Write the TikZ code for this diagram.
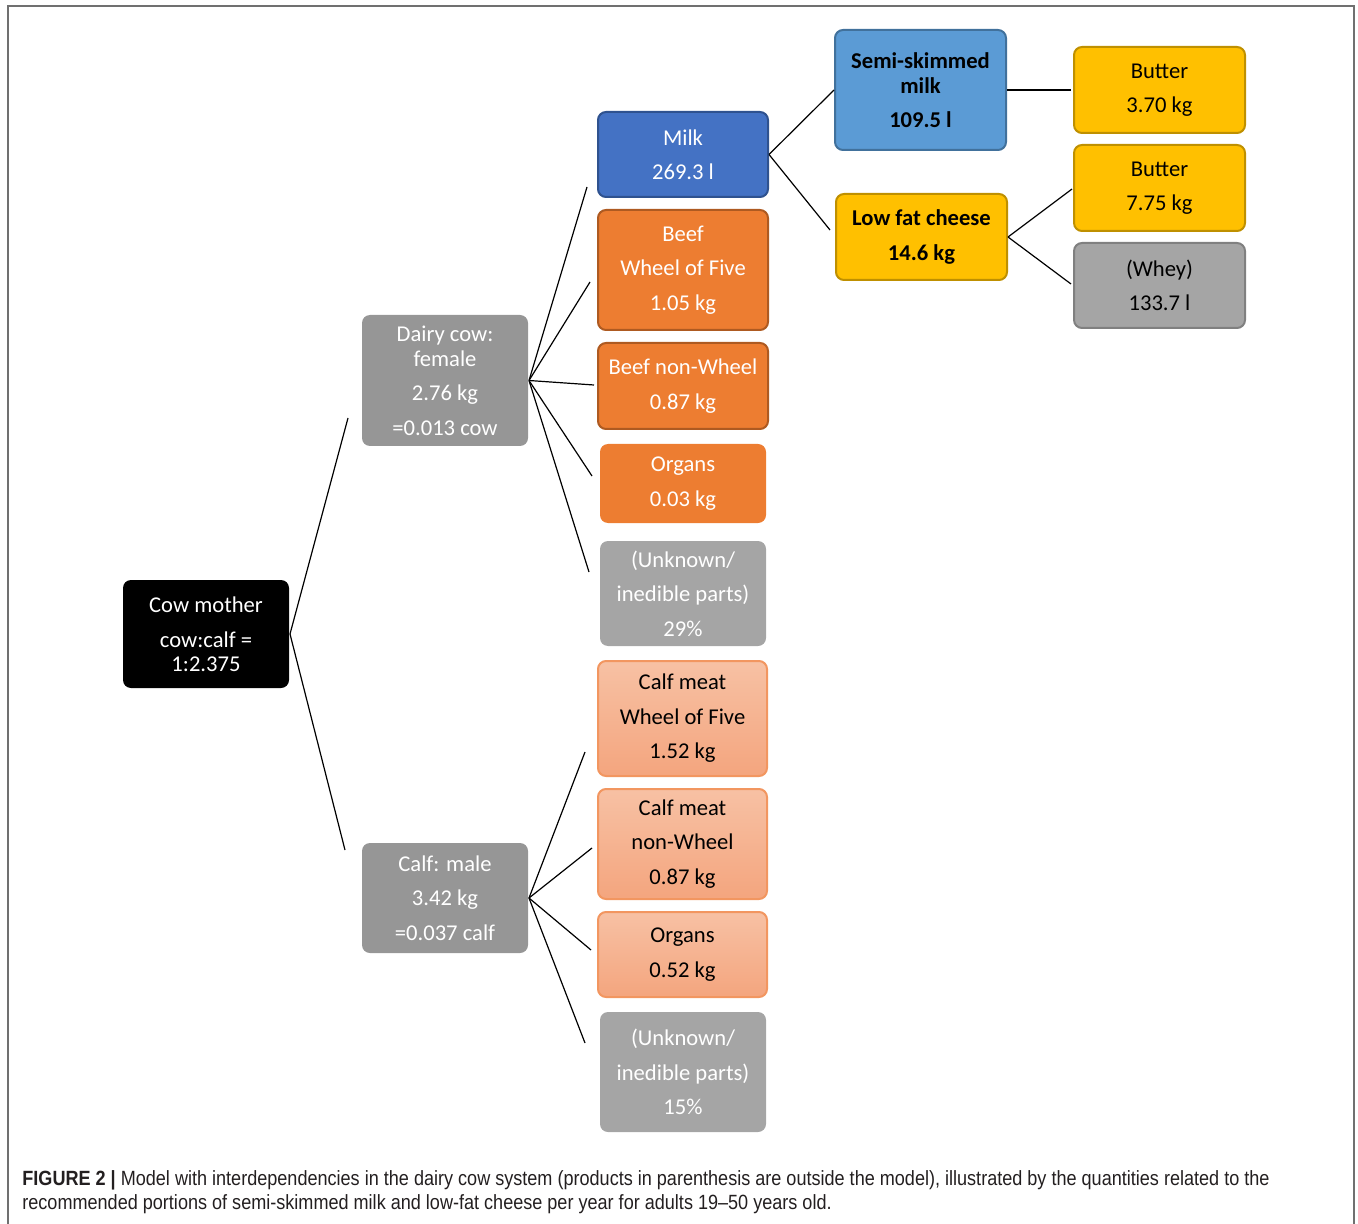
\documentclass[tikz,border=0pt]{standalone}
\usepackage{fontspec}
\newfontfamily\boxfont{Carlito}
\newfontfamily\capfont[FakeStretch=0.877,Ligatures=TeX]{Liberation Sans}
\definecolor{framegray}{HTML}{707070}
\definecolor{darkgray}{HTML}{969696}
\definecolor{lightgray}{HTML}{A5A5A5}
\definecolor{wheyborder}{HTML}{808080}
\definecolor{milkblue}{HTML}{4472C4}
\definecolor{milkborder}{HTML}{2F528F}
\definecolor{semiblue}{HTML}{5B9BD5}
\definecolor{semiborder}{HTML}{41719C}
\definecolor{beeforange}{HTML}{ED7D31}
\definecolor{beefborder}{HTML}{AE5A21}
\definecolor{calftop}{HTML}{F7C1A4}
\definecolor{calfbottom}{HTML}{F4A57E}
\definecolor{calfborder}{HTML}{F29660}
\definecolor{cheeseyellow}{HTML}{FFC000}
\definecolor{cheeseborder}{HTML}{BF9000}
\definecolor{captext}{HTML}{231F20}
\begin{document}
\begin{tikzpicture}[x=0.5pt, y=-0.5pt,
	box/.style={rounded corners=4pt, align=center, inner sep=0pt, line width=1pt,
		font=\boxfont\fontsize{11.3}{17.25}\selectfont},
	whitebox/.style={box, text=white},
	mother/.style={whitebox, fill=black, minimum width=83pt},
	animal/.style={whitebox, fill=darkgray, minimum width=83pt},
	milkbox/.style={whitebox, fill=milkblue, draw=milkborder, minimum width=85pt},
	beefbox/.style={whitebox, fill=beeforange, draw=beefborder, minimum width=85pt},
	organbox/.style={whitebox, fill=beeforange, minimum width=83pt},
	unknownbox/.style={whitebox, fill=lightgray, minimum width=83pt},
	calfbox/.style={box, top color=calftop, bottom color=calfbottom, draw=calfborder, minimum width=84.5pt},
	semibox/.style={box, fill=semiblue, draw=semiborder, minimum width=85.5pt, font=\boxfont\bfseries\fontsize{11.3}{17.25}\selectfont},
	cheesebox/.style={box, fill=cheeseyellow, draw=cheeseborder, minimum width=85.5pt},
	wheybox/.style={box, fill=lightgray, draw=wheyborder, minimum width=85.5pt},
	link/.style={line width=0.6pt}]

	% Page and frame
	\useasboundingbox (0,0) rectangle (1358,1224);
	\draw[framegray, line width=1pt] (8,1224) -- (8,6) -- (1354,6) -- (1354,1224);

	% Cow mother and the two animals
	\node[mother, minimum height=54pt] (cow) at (206,634) {Cow mother\\cow:calf =\\[-5.25pt]1:2.375};
	\node[animal, minimum height=65.5pt] (dairy) at (445,380.5) {Dairy cow:\\[-4.75pt]female\\2.76 kg\\=0.013 cow};
	\node[animal, minimum height=55pt] (calf) at (445,898) {Calf: male\\3.42 kg\\=0.037 calf};

	% Products of the dairy cow
	\node[milkbox, minimum height=42.5pt] (milk) at (683,154.5) {Milk\\269.3 l};
	\node[beefbox, minimum height=60pt] (beefw) at (683,270) {Beef\\Wheel of Five\\1.05 kg};
	\node[beefbox, minimum height=43pt] (beefn) at (683,386) {Beef non-Wheel\\0.87 kg};
	\node[organbox, minimum height=39.5pt] (organs) at (683,483.5) {Organs\\0.03 kg};
	\node[unknownbox, minimum height=52.5pt] (unkcow) at (683,593.5) {(Unknown/\\inedible parts)\\29\%};

	% Products of the calf
	\node[calfbox, minimum height=57.5pt] (calfw) at (682.5,718.5) {Calf meat\\Wheel of Five\\1.52 kg};
	\node[calfbox, minimum height=55pt] (calfn) at (682.5,844) {Calf meat\\non-Wheel\\0.87 kg};
	\node[calfbox, minimum height=42.5pt] (calforgans) at (682.5,954.5) {Organs\\0.52 kg};
	\node[unknownbox, minimum height=60pt] (unkcalf) at (683,1072) {(Unknown/\\inedible parts)\\15\%};

	% Milk products
	\node[semibox, minimum height=60pt] (semi) at (920.5,90) {Semi-skimmed\\[-4.75pt]milk\\109.5 l};
	\node[cheesebox, minimum height=43pt, font=\boxfont\bfseries\fontsize{11.3}{17.25}\selectfont] (cheese) at (921.5,237) {Low fat cheese\\14.6 kg};
	\node[cheesebox, minimum height=43pt] (butterone) at (1159.5,90) {Butter\\3.70 kg};
	\node[cheesebox, minimum height=43pt] (buttertwo) at (1159.5,188) {Butter\\7.75 kg};
	\node[wheybox, minimum height=42.5pt] (whey) at (1159.5,285.5) {(Whey)\\133.7 l};

	% Connectors
	\draw[link] (cow.east) -- ([shift={(-13,37.5)}]dairy.west);
	\draw[link] (cow.east) -- ([shift={(-16,-48)}]calf.west);
	\foreach \target/\dx/\dy in {milk/-10/32.5, beefw/-7/12, beefn/-3/-1, organs/-7/-7.5, unkcow/-10/-21.5}{
		\draw[link] (dairy.east) -- ([shift={(\dx,\dy)}]\target.west);
	}
	\foreach \target/\dx/\dy in {calfw/-12/33.5, calfn/-5/4, calforgans/-6/-4.5, unkcalf/-14/-29}{
		\draw[link] (calf.east) -- ([shift={(\dx,\dy)}]\target.west);
	}
	\draw[link] (milk.east) -- (semi.west);
	\draw[link] (milk.east) -- ([shift={(-5,-7)}]cheese.west);
	\draw[link] (semi.east) -- ([shift={(-2,0)}]butterone.west);
	\draw[link] (cheese.east) -- ([shift={(-1,1)}]buttertwo.west);
	\draw[link] (cheese.east) -- ([shift={(-2,-1.5)}]whey.west);

	% Caption
	\node[anchor=base west, inner sep=0pt, text=captext, font=\capfont\fontsize{10.3}{12}\selectfont] (capone) at (22,1185)
		{\textbf{FIGURE 2 |} Model with interdependencies in the dairy cow system (products in parenthesis are outside the model), illustrated by the quantities related to the};
	\node[anchor=base west, inner sep=0pt, text=captext, font=\capfont\fontsize{10.3}{12}\selectfont] (captwo) at (22,1209)
		{recommended portions of semi-skimmed milk and low-fat cheese per year for adults 19–50 years old.};

\end{tikzpicture}
\end{document}
